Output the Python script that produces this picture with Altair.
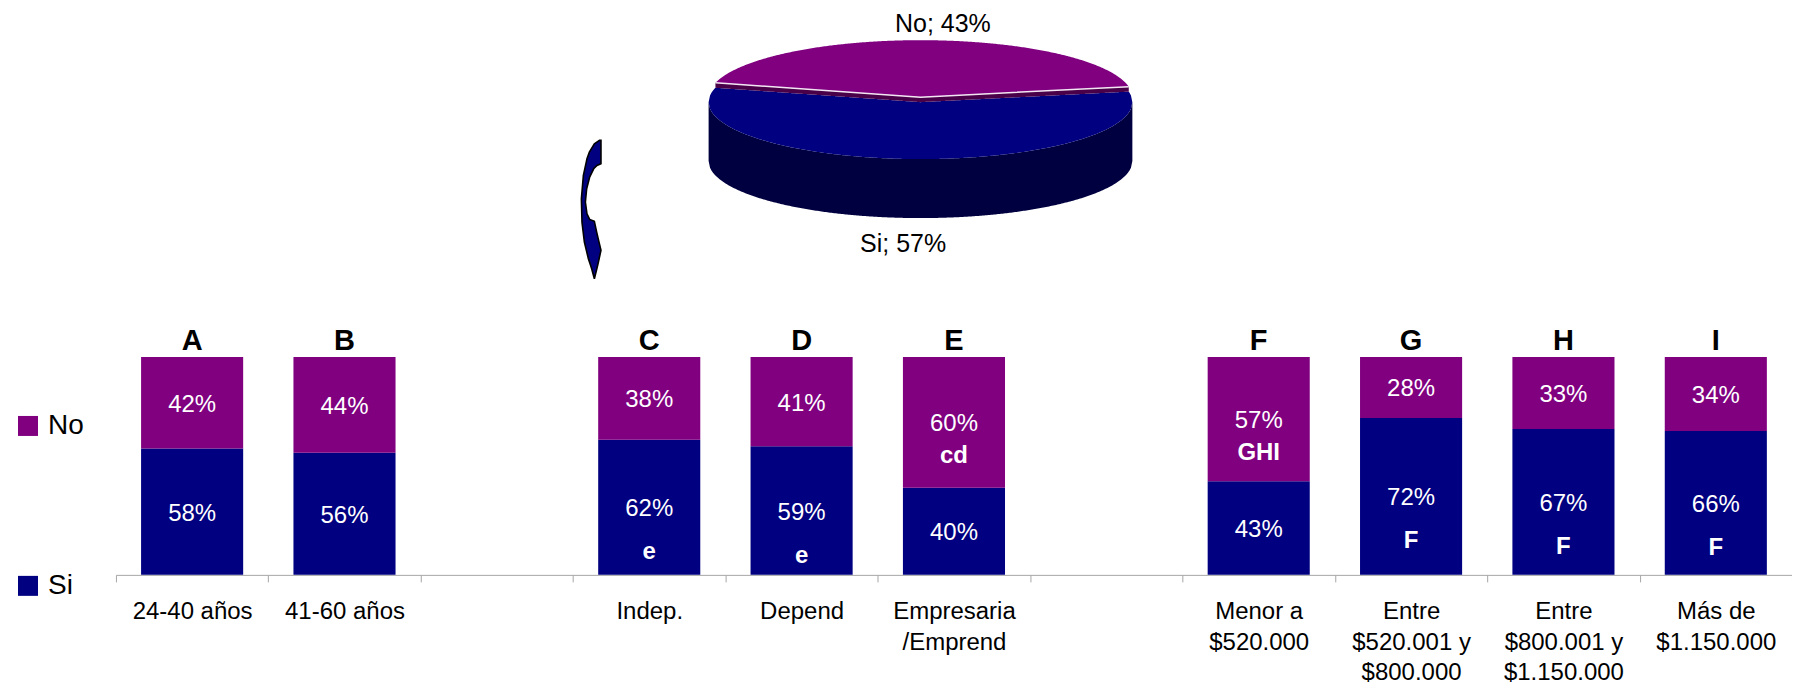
import math
import altair as alt
import numpy as np
import pandas as pd

# ---------------- data ----------------
groups = ["A", "B", "", "C", "D", "E", "", "F", "G", "H", "I"]
x_labels = ["24-40 años", "41-60 años", " ", "Indep.", "Depend", "Empresaria\n/Emprend", "  ",
            "Menor a\n$520.000", "Entre\n$520.001 y\n$800.000",
            "Entre\n$800.001 y\n$1.150.000", "Más de\n$1.150.000"]
si_pct = [58, 56, None, 62, 59, 40, None, 43, 72, 67, 66]
no_pct = [42, 44, None, 38, 41, 60, None, 57, 28, 33, 34]
si_sig = ["", "", "", "e", "e", "", "", "", "F", "F", "F"]
no_sig = ["", "", "", "", "", "cd", "", "GHI", "", "", ""]
series = ["No", "Si"]
series_colors = ["#800080", "#000080"]
pie_labels = ["No", "Si"]
pie_values = [43, 57]

# ---------------- layout (styles) ----------------
FONT = "Liberation Sans"
W, H = 1677, 567
UNIT = 218.0                # pixels for 100 %
YMAX = H / UNIT
PCX, PCY, PA, PB = 805.0, 94.0, 212.0, 57.0
DEPTH, LIFT = 59.0, 5.0
MID_NO = 88.0

# ---------------- bar table ----------------
rows = []
for i, lab in enumerate(x_labels):
    if si_pct[i] is None:
        continue
    s = si_pct[i] / 100.0
    rows.append(dict(slot=lab, series="Si", start=0.0, end=s, mid=s / 2,
                     pct=f"{si_pct[i]}%", sig=si_sig[i]))
    rows.append(dict(slot=lab, series="No", start=s, end=1.0, mid=(s + 1) / 2,
                     pct=f"{no_pct[i]}%", sig=no_sig[i]))
bars_df = pd.DataFrame(rows)
letters_df = pd.DataFrame({"slot": x_labels, "grp": groups, "one": [1.0] * len(groups)})

xscale = alt.Scale(domain=x_labels, paddingInner=0, paddingOuter=0)
yscale = alt.Scale(domain=[0, YMAX], nice=False, zero=False)

xaxis = alt.Axis(title=None, labelAngle=0, labelFont=FONT, labelFontSize=24, labelColor="black",
                 labelLineHeight=30.5, labelBaseline="top", labelPadding=18, labelLimit=400,
                 labelOverlap=False, domainColor="#a6a6a6", tickColor="#a6a6a6", tickSize=7,
                 tickBand="extent", labelExpr="split(datum.label, '\\n')")

base = alt.Chart(bars_df)
bars = base.mark_bar(width=alt.RelativeBandSize(0.67)).encode(
    x=alt.X("slot:N", scale=xscale, axis=xaxis, sort=x_labels),
    y=alt.Y("start:Q", scale=yscale, axis=None),
    y2="end:Q",
    color=alt.Color("series:N", scale=alt.Scale(domain=series, range=series_colors),
                    legend=alt.Legend(title=None, orient="none", legendX=-102, legendY=404,
                                      symbolType="square", symbolSize=400, symbolStrokeWidth=0,
                                      labelFont=FONT, labelFontSize=28, labelColor="black",
                                      labelOffset=6, rowPadding=132, padding=0)),
)
pct_text = base.mark_text(font=FONT, fontSize=24, color="white", baseline="middle", dy=2).encode(
    x=alt.X("slot:N", scale=xscale, sort=x_labels), y=alt.Y("mid:Q", scale=yscale), text="pct:N")
sig_si_text = base.transform_filter("datum.series == 'Si'").mark_text(
    font=FONT, fontSize=24, fontWeight="bold", color="white", baseline="middle", dy=45).encode(
    x=alt.X("slot:N", scale=xscale, sort=x_labels), y=alt.Y("mid:Q", scale=yscale), text="sig:N")
sig_no_text = base.transform_filter("datum.series == 'No'").mark_text(
    font=FONT, fontSize=24, fontWeight="bold", color="white", baseline="middle", dy=34).encode(
    x=alt.X("slot:N", scale=xscale, sort=x_labels), y=alt.Y("mid:Q", scale=yscale), text="sig:N")
top_letters = alt.Chart(letters_df).mark_text(
    font=FONT, fontSize=29, fontWeight="bold", color="black", baseline="alphabetic", dy=-7).encode(
    x=alt.X("slot:N", scale=xscale, sort=x_labels), y=alt.Y("one:Q", scale=yscale), text="grp:N")

bar_layer = alt.layer(bars, pct_text, sig_si_text, sig_no_text, top_letters)

# ---------------- 3D pie geometry from the shares ----------------
span_no = 360.0 * pie_values[0] / sum(pie_values)
th1 = math.radians(MID_NO - span_no / 2)
th2 = math.radians(MID_NO + span_no / 2)
Lx, Ly = PCX + PA * math.cos(th2), PCY - PB * math.sin(th2)
Rx, Ry = PCX + PA * math.cos(th1), PCY - PB * math.sin(th1)


def half(x):
    u = (x - PCX) / PA
    return PB * math.sqrt(max(0.0, 1 - u * u))


def sep(x):
    if x <= PCX:
        return Ly + (PCY - Ly) * (x - Lx) / (PCX - Lx)
    return PCY + (Ry - PCY) * (x - PCX) / (Rx - PCX)


n = 300
xs = sorted(set([PCX - PA + 2 * PA * k / n for k in range(n + 1)] + [Lx, Rx, PCX]))
xs_no = [x for x in xs if Lx <= x <= Rx]

side_df = pd.DataFrame({"px": xs, "py": [PCY + half(x) for x in xs],
                        "py2": [PCY + half(x) + DEPTH for x in xs]})
si_df = pd.DataFrame({"px": xs,
                      "py": [sep(x) if Lx <= x <= Rx else PCY - half(x) for x in xs],
                      "py2": [PCY + half(x) for x in xs]})
strip_df = pd.DataFrame({"px": xs_no, "py": [sep(x) - LIFT for x in xs_no],
                         "py2": [sep(x) for x in xs_no]})
no_df = pd.DataFrame({"px": xs_no, "py": [PCY - half(x) - LIFT for x in xs_no],
                      "py2": [sep(x) - LIFT for x in xs_no]})
edge_df = pd.DataFrame({"px": [Lx, PCX, Rx], "py": [Ly - LIFT, PCY - LIFT, Ry - LIFT]})

mid_si = MID_NO + 180.0
plabel_df = pd.DataFrame({
    "px": [PCX + PA * math.cos(math.radians(MID_NO)) + 15, PCX + PA * math.cos(math.radians(mid_si)) - 10],
    "py": [PCY - PB - LIFT - 16, PCY + PB + DEPTH + 26],
    "t": [f"{pie_labels[0]}; {pie_values[0]}%", f"{pie_labels[1]}; {pie_values[1]}%"],
})

# decorative curved arrow outline (page pixels), left and right edges
arr_left_y = [140.3, 143.7, 152, 158.7, 175.3, 198.7, 222, 242, 258.7, 268.7, 278.7]
arr_left_x = [599.7, 594.7, 589.7, 587.3, 583.7, 581.7, 582.3, 584.7, 588.7, 592, 594.7]
arr_right_y = [140.3, 163.7, 165.3, 168.7, 177, 188.7, 202, 213.7, 219.3, 221.3, 232, 250.3, 265.3, 278.7]
arr_right_x = [601.3, 601.3, 597.3, 594, 590, 587, 585.7, 587.3, 590, 594.7, 597, 601.3, 598, 594.7]
grid_y = sorted(set(arr_left_y + arr_right_y))
arrow_df = pd.DataFrame({
    "py": [y - 8 for y in grid_y],
    "px": [x - 116 for x in np.interp(grid_y, arr_left_y, arr_left_x)],
    "px2": [x - 116 for x in np.interp(grid_y, arr_right_y, arr_right_x)],
})

px_s = alt.Scale(domain=[0, W], nice=False, zero=False)
py_s = alt.Scale(domain=[H, 0], nice=False, zero=False)


def face(df, color):
    return alt.Chart(df).mark_area(color=color, opacity=1).encode(
        x=alt.X("px:Q", scale=px_s, axis=None),
        y=alt.Y("py:Q", scale=py_s, axis=None),
        y2="py2:Q",
    )


pie_layer = alt.layer(
    face(side_df, "#000040"),
    face(si_df, "#000080"),
    face(strip_df, "#4a0048"),
    face(no_df, "#800080"),
    alt.Chart(edge_df).mark_line(color="#f2e6f2", strokeWidth=1.5).encode(
        x=alt.X("px:Q", scale=px_s, axis=None), y=alt.Y("py:Q", scale=py_s, axis=None)),
    alt.Chart(plabel_df).mark_text(font=FONT, fontSize=25, color="black", baseline="middle").encode(
        x=alt.X("px:Q", scale=px_s, axis=None), y=alt.Y("py:Q", scale=py_s, axis=None), text="t:N"),
    alt.Chart(arrow_df).mark_area(orient="horizontal", color="#000080", stroke="black",
                                  strokeWidth=1.6, opacity=1).encode(
        y=alt.Y("py:Q", scale=py_s, axis=None),
        x=alt.X("px:Q", scale=px_s, axis=None),
        x2="px2:Q",
    ),
)

chart = alt.layer(pie_layer, bar_layer).resolve_scale(
    x="independent", y="independent"
).properties(
    width=W, height=H, autosize=alt.AutoSizeParams(type="none"),
    padding={"left": 108, "top": 0, "right": 0, "bottom": 110},
).configure_view(stroke=None)

chart.save("out.html", embed_options={"renderer": "svg", "actions": False})
